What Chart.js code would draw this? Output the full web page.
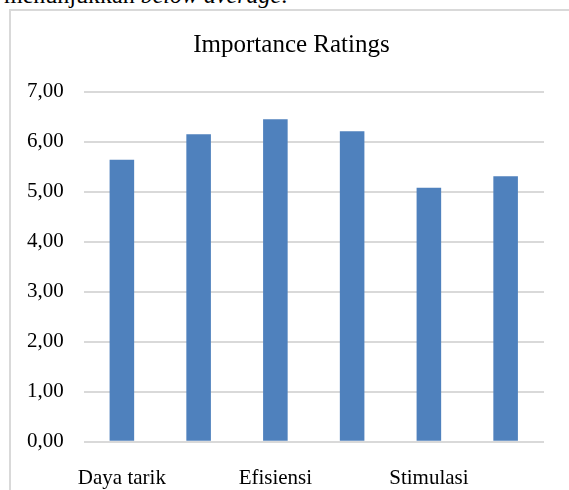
<!DOCTYPE html>
<html>
<head>
<meta charset="utf-8">
<script src="https://cdn.jsdelivr.net/npm/chart.js@4/dist/chart.umd.min.js"></script>
<style>
  html, body { margin: 0; padding: 0; background: #ffffff; }
  body { width: 569px; height: 490px; position: relative; overflow: hidden; }
  #lead {
    position: absolute; left: 4px; top: -17px;
    font: 24px "Liberation Serif", "Times New Roman", serif;
    line-height: 24px; color: #000; white-space: nowrap;
  }
  #frame {
    position: absolute; left: 9px; top: 9px; width: 620px; height: 560px;
    border: 2px solid #d9d9d9; box-sizing: border-box;
  }
  #wrap { position: absolute; left: 0; top: 0; width: 569px; height: 490px; }
</style>
</head>
<body>
<div id="lead">menunjukkan <i>below average</i>.</div>
<div id="frame"></div>
<div id="wrap"><canvas id="chart" width="569" height="490"></canvas></div>
<script>
// UEQ scale names; every second name is left unlabeled on the axis
const categories = ['Daya tarik', 'Kejelasan', 'Efisiensi', 'Ketepatan', 'Stimulasi', 'Kebaruan'];
const ratings = [5.64, 6.15, 6.45, 6.21, 5.08, 5.31];
const yTicks = [0, 1, 2, 3, 4, 5, 6, 7];

const serif = '"Liberation Serif", "Times New Roman", serif';

new Chart(document.getElementById('chart'), {
  type: 'bar',
  data: {
    labels: categories,
    datasets: [{
      label: 'Importance Ratings',
      data: ratings,
      backgroundColor: '#4f81bd',
      borderWidth: 0,
      categoryPercentage: 1,
      barPercentage: 0.32
    }]
  },
  options: {
    responsive: false,
    animation: false,
    devicePixelRatio: 1,
    layout: { padding: { left: 39, right: 25, top: 0, bottom: 0 } },
    plugins: {
      legend: { display: false },
      tooltip: { enabled: false },
      title: {
        display: true,
        text: 'Importance Ratings',
        color: '#000000',
        font: { family: serif, size: 25, weight: 'normal' },
        padding: { top: 30, bottom: 31.7 }
      }
    },
    scales: {
      x: {
        grid: { display: false, drawTicks: false },
        border: { display: false },
        ticks: {
          color: '#000000',
          font: { family: serif, size: 21 },
          padding: 24,
          autoSkip: false,
          maxRotation: 0,
          callback: function (value, index) {
            return index % 2 === 0 ? categories[index] : '';
          }
        },
        afterFit: function (scale) { scale.height = 48.3; }
      },
      y: {
        min: yTicks[0],
        max: yTicks[yTicks.length - 1],
        afterBuildTicks: function (scale) {
          scale.ticks = yTicks.map(function (v) { return { value: v }; });
        },
        grid: { color: '#d9d9d9', lineWidth: 2, drawTicks: false },
        border: { display: false },
        ticks: {
          color: '#000000',
          font: { family: serif, size: 21 },
          // labels are placed left of the axis (same-width strings, so left-aligned)
          mirror: true,
          padding: -56.5,
          callback: function (value) { return value.toFixed(2).replace('.', ','); }
        },
        afterFit: function (scale) { scale.width = 44.5; }
      }
    }
  }
});
</script>
</body>
</html>
